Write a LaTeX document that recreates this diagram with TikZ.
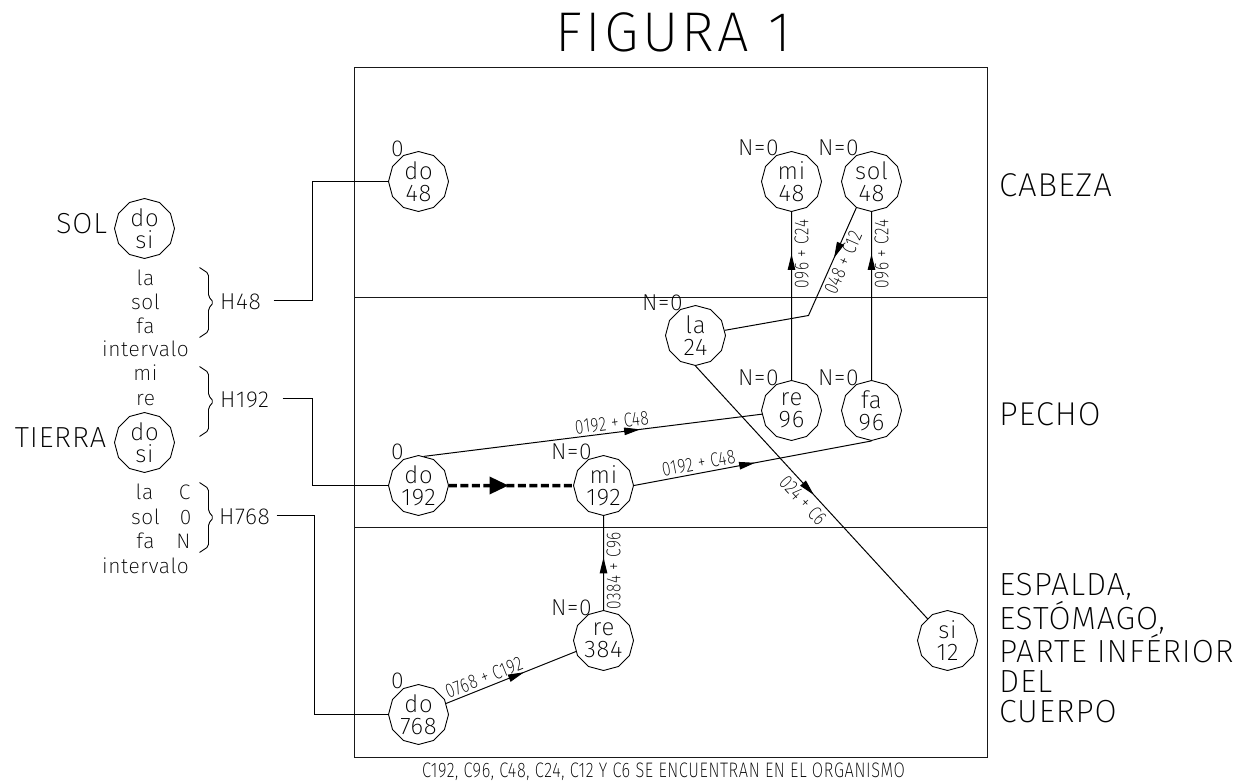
\documentclass[tikz,border=0pt]{standalone}
\usepackage{fontspec}
\IfFontExistsTF{Fira Sans ExtraLight}{%
  \setmainfont{Fira Sans ExtraLight}[LetterSpace=3]
  \newfontfamily\narrowfont{Fira Sans ExtraLight}[FakeStretch=0.78,LetterSpace=3]
  \newfontfamily\titlefont{Fira Sans ExtraLight}[LetterSpace=6]
}{%
  \setmainfont{Fira Sans Light}[LetterSpace=3]
  \newfontfamily\narrowfont{Fira Sans Light}[FakeStretch=0.78,LetterSpace=3]
  \newfontfamily\titlefont{Fira Sans Light}[LetterSpace=6]
}
\usetikzlibrary{shapes.geometric,arrows.meta,decorations.markings}
\newcommand\myfs[2]{\fontsize{#1}{#2}\selectfont}
\begin{document}
\begin{tikzpicture}[x=1pt,y=-1pt,line width=1pt,
  poly/.style={draw, line width=0.9pt, regular polygon, regular polygon sides=12, minimum size=60pt, inner sep=0pt, shape border rotate=15, align=center, font=\myfs{24}{22}},
  lbl/.style={font=\myfs{23}{23}, inner sep=0pt},
  lst/.style={font=\myfs{21}{21}, inner sep=0pt, anchor=base},
  big/.style={font=\myfs{33}{33}, inner sep=0pt},
  sm/.style={font=\narrowfont\myfs{20}{20}, inner sep=2.5pt},
  conn/.style={line width=1pt},
  midarrow/.style={postaction={decorate}, decoration={markings, mark=at position #1 with {\arrow{Triangle[length=16pt,width=7.5pt]}}}},
  bigarrow/.style={postaction={decorate}, decoration={markings, mark=at position #1 with {\arrow{Triangle[length=19pt,width=17pt]}}}},
  frame/.style={line width=1.5pt, black!90},
  bracestyle/.style={line width=0.9pt, rounded corners=2pt}
]
\useasboundingbox (0,0) rectangle (1240,783);
\begin{scope}[xshift=0.5pt, yshift=-0.5pt]

% frame
\draw[frame] (354,67) rectangle (987,757);
\draw[frame] (354,297) -- (987,297);
\draw[frame] (354,527) -- (987,527);

% title
\node[font=\titlefont\myfs{56}{56}, inner sep=0pt] (title) at (673,32) {FIGURA 1};

% main nodes
\node[poly] (do48)   at (418,181) {do\\48};
\node[poly] (mi48)   at (791,181)   {mi\\48};
\node[poly] (sol48)  at (871,181)   {sol\\48};
\node[poly] (la24)   at (695,335)   {la\\24};
\node[poly] (re96)   at (791,410) {re\\96};
\node[poly] (fa96)   at (871,410) {fa\\96};
\node[poly] (do192)  at (418,485) {do\\192};
\node[poly] (mi192)  at (603,485)   {mi\\192};
\node[poly] (re384)  at (603,640)   {re\\384};
\node[poly] (do768)  at (418,714) {do\\768};
\node[poly] (si12)   at (947,640) {si\\12};

% small labels above nodes
\node[lbl] (o48)   at (397,148) {0};
\node[lbl] (n48a)  at (758,147) {N=0};
\node[lbl] (n48b)  at (838,147) {N=0};
\node[lbl] (n24)   at (662,302) {N=0};
\node[lbl] (n96a)  at (758,377) {N=0};
\node[lbl] (n96b)  at (838,377) {N=0};
\node[lbl] (o192)  at (397,451) {0};
\node[lbl] (n192)  at (571,451) {N=0};
\node[lbl] (n384)  at (571,607) {N=0};
\node[lbl] (o768)  at (397,680) {0};

% connectors
\coordinate (bend1) at (808,315);
\draw[conn,midarrow=0.75] (re96) -- node[sm,sloped,below,pos=0.75]{096 + C24} (mi48);
\draw[conn,midarrow=0.75] (fa96) -- node[sm,sloped,below,pos=0.75]{096 + C24} (sol48);
\draw[conn,midarrow=0.27] (sol48.240) -- node[sm,sloped,below,pos=0.47]{048 + C12} (bend1) -- (la24);
\draw[conn,midarrow=0.64] (do192.80) -- node[sm,sloped,above,pos=0.56]{0192 + C48} (re96);
\draw[conn,midarrow=0.51] (mi192.east) -- node[sm,sloped,above,pos=0.28]{0192 + C48} (fa96.south);
\draw[conn,midarrow=0.51] (la24.south) -- node[sm,sloped,below=1.5pt,pos=0.5]{024 + C6} (si12);
\draw[conn,midarrow=0.56] (re384) -- node[sm,sloped,below,pos=0.42]{0384 + C96} (mi192);
\draw[conn,midarrow=0.6] (do768) -- node[sm,sloped,above,pos=0.32]{0768 + C192} (re384);
\draw[line width=3.5pt, dash pattern=on 8pt off 3.5pt, bigarrow=0.48] (do192.east) -- (mi192.west);

% left legend
\node[font=\myfs{29}{29}, inner sep=0pt] (sol) at (81,223) {SOL};
\node[poly] (solp) at (144,228) {do\\si};
\node[font=\myfs{29}{29}, inner sep=0pt] (tierra) at (60,437) {TIERRA};
\node[poly] (tierrap) at (144,442) {do\\si};

\node[lst] (a1) at (145,285) {la};
\node[lst] (a2) at (145,309) {sol};
\node[lst] (a3) at (145,333) {fa};
\node[lst] (a4) at (145,356) {intervalo};
\node[lst] (b1) at (145,380) {mi};
\node[lst] (b2) at (145,405) {re};
\node[lst] (c1) at (144,499) {la};
\node[lst] (c2) at (145,524) {sol};
\node[lst] (c3) at (145,548) {fa};
\node[lst] (c4) at (145,573) {intervalo};
\node[lst] (d1) at (184,499) {C};
\node[lst] (d2) at (185,524) {0};
\node[lst] (d3) at (183,548) {N};

\foreach \t in {267,366,482}
  \draw[bracestyle] (199,\t) -- ++(9,6) -- ++(0,23) -- ++(5,6) -- ++(-5,6) -- ++(0,23) -- ++(-9,6);

\node[lbl, anchor=west] (h48)  at (219,301) {H48};
\node[lbl, anchor=west] (h192) at (219,399) {H192};
\node[lbl, anchor=west] (h768) at (218,516) {H768};

\coordinate (h48s) at (273,300);
\coordinate (h48k) at (312,300);
\coordinate (h192s) at (282,398);
\coordinate (h192k) at (312,398);
\coordinate (h768s) at (276,515);
\coordinate (h768k) at (314,515);
\draw[conn] (h48s) -- (h48k) |- (do48.west);
\draw[conn] (h192s) -- (h192k) |- (do192.west);
\draw[conn] (h768s) -- (h768k) |- (do768.west);

% right labels
\node[big, anchor=west] (cabeza) at (998,185) {CABEZA};
\node[big, anchor=west] (pecho) at (998,414) {PECHO};
\node[font=\myfs{32}{29.7}, inner sep=0pt, anchor=north west, align=left] (espalda) at (998,572) {ESPALDA,\\ESTÓMAGO,\\PARTE INFÉRIOR\\DEL\\CUERPO};

% bottom note
\node[font=\narrowfont\myfs{21}{21}, inner sep=0pt] (nota) at (663,771) {C192, C96, C48, C24, C12 Y C6 SE ENCUENTRAN EN EL ORGANISMO};
\end{scope}
\end{tikzpicture}
\end{document}
